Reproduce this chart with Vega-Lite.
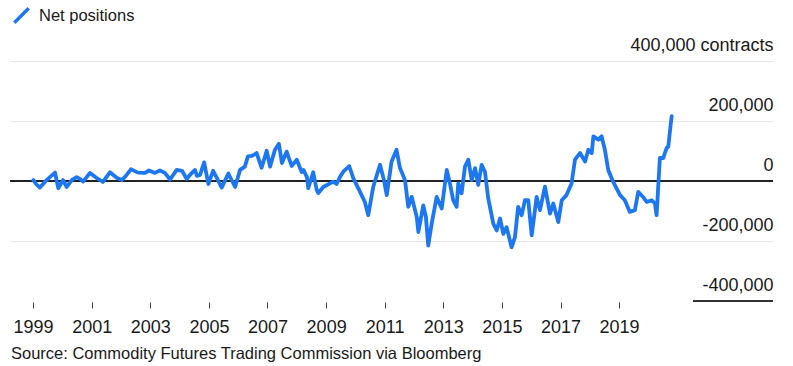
{
  "$schema": "https://vega.github.io/schema/vega-lite/v6.json",
  "width": 763,
  "height": 240,
  "autosize": {"type": "none"},
  "padding": {"left": 10, "top": 61, "right": 20, "bottom": 65},
  "background": "white",
  "config": {
    "view": {"stroke": null},
    "font": "Liberation Sans"
  },
  "title": {
    "text": "Source: Commodity Futures Trading Commission via Bloomberg",
    "orient": "bottom",
    "anchor": "start",
    "frame": "group",
    "offset": 10,
    "dx": 1,
    "font": "Liberation Sans",
    "fontSize": 16.5,
    "fontWeight": "normal",
    "color": "#1a1a1a"
  },
  "data": {
    "values": [
      {"date": "1999-01-05", "value": 3000},
      {"date": "1999-02-07", "value": -10000},
      {"date": "1999-03-26", "value": -22000},
      {"date": "1999-05-28", "value": -3000},
      {"date": "1999-07-29", "value": 13000},
      {"date": "1999-10-01", "value": 28000},
      {"date": "1999-11-11", "value": -24000},
      {"date": "2000-01-09", "value": 3000},
      {"date": "2000-02-24", "value": -20000},
      {"date": "2000-04-26", "value": 3000},
      {"date": "2000-06-27", "value": 13000},
      {"date": "2000-08-08", "value": 7000},
      {"date": "2000-09-15", "value": -2000},
      {"date": "2000-12-11", "value": 27000},
      {"date": "2001-03-03", "value": 10000},
      {"date": "2001-05-20", "value": -3000},
      {"date": "2001-08-16", "value": 29000},
      {"date": "2001-11-12", "value": 10000},
      {"date": "2002-01-14", "value": 3000},
      {"date": "2002-02-20", "value": 14000},
      {"date": "2002-05-04", "value": 39000},
      {"date": "2002-08-01", "value": 28000},
      {"date": "2002-10-26", "value": 27000},
      {"date": "2002-12-16", "value": 35000},
      {"date": "2003-02-28", "value": 27000},
      {"date": "2003-05-01", "value": 35000},
      {"date": "2003-07-02", "value": 27000},
      {"date": "2003-09-04", "value": 5000},
      {"date": "2003-11-26", "value": 37000},
      {"date": "2004-02-01", "value": 34000},
      {"date": "2004-03-29", "value": 7000},
      {"date": "2004-05-22", "value": 24000},
      {"date": "2004-07-11", "value": 37000},
      {"date": "2004-08-05", "value": 17000},
      {"date": "2004-09-12", "value": 20000},
      {"date": "2004-11-02", "value": 62000},
      {"date": "2004-12-25", "value": -10000},
      {"date": "2005-02-22", "value": 34000},
      {"date": "2005-04-24", "value": 3000},
      {"date": "2005-06-09", "value": -22000},
      {"date": "2005-08-31", "value": 25000},
      {"date": "2005-11-23", "value": -20000},
      {"date": "2006-01-24", "value": 37000},
      {"date": "2006-03-25", "value": 48000},
      {"date": "2006-05-02", "value": 82000},
      {"date": "2006-06-21", "value": 84000},
      {"date": "2006-08-19", "value": 93000},
      {"date": "2006-10-20", "value": 44000},
      {"date": "2006-12-22", "value": 101000},
      {"date": "2007-02-02", "value": 48000},
      {"date": "2007-04-04", "value": 104000},
      {"date": "2007-05-23", "value": 124000},
      {"date": "2007-06-30", "value": 60000},
      {"date": "2007-08-28", "value": 98000},
      {"date": "2007-10-29", "value": 50000},
      {"date": "2008-01-01", "value": 71000},
      {"date": "2008-03-02", "value": 30000},
      {"date": "2008-03-24", "value": 37000},
      {"date": "2008-05-07", "value": 13000},
      {"date": "2008-05-23", "value": -24000},
      {"date": "2008-07-24", "value": 29000},
      {"date": "2008-09-06", "value": -30000},
      {"date": "2008-09-26", "value": -40000},
      {"date": "2008-11-27", "value": -20000},
      {"date": "2009-02-19", "value": -8000},
      {"date": "2009-03-26", "value": -2000},
      {"date": "2009-05-12", "value": -10000},
      {"date": "2009-06-22", "value": 13000},
      {"date": "2009-08-03", "value": 31000},
      {"date": "2009-10-16", "value": 50000},
      {"date": "2009-12-06", "value": 9000},
      {"date": "2010-02-28", "value": -36000},
      {"date": "2010-04-29", "value": -70000},
      {"date": "2010-06-10", "value": -114000},
      {"date": "2010-08-11", "value": -20000},
      {"date": "2010-09-14", "value": 10000},
      {"date": "2010-11-04", "value": 54000},
      {"date": "2010-12-23", "value": 3000},
      {"date": "2011-01-27", "value": -47000},
      {"date": "2011-03-28", "value": 65000},
      {"date": "2011-05-29", "value": 104000},
      {"date": "2011-07-10", "value": 44000},
      {"date": "2011-09-11", "value": 3000},
      {"date": "2011-10-22", "value": -86000},
      {"date": "2011-12-04", "value": -53000},
      {"date": "2012-02-05", "value": -120000},
      {"date": "2012-02-25", "value": -170000},
      {"date": "2012-04-26", "value": -81000},
      {"date": "2012-05-29", "value": -120000},
      {"date": "2012-06-27", "value": -215000},
      {"date": "2012-08-09", "value": -142000},
      {"date": "2012-10-10", "value": -53000},
      {"date": "2012-12-12", "value": -92000},
      {"date": "2013-02-13", "value": 37000},
      {"date": "2013-03-24", "value": -8000},
      {"date": "2013-05-04", "value": -64000},
      {"date": "2013-06-16", "value": -86000},
      {"date": "2013-07-06", "value": -8000},
      {"date": "2013-08-17", "value": -41000},
      {"date": "2013-09-28", "value": 48000},
      {"date": "2013-11-09", "value": 71000},
      {"date": "2013-12-21", "value": 3000},
      {"date": "2014-02-01", "value": 43000},
      {"date": "2014-03-12", "value": -13000},
      {"date": "2014-04-24", "value": 54000},
      {"date": "2014-06-04", "value": 31000},
      {"date": "2014-07-15", "value": -58000},
      {"date": "2014-09-16", "value": -142000},
      {"date": "2014-10-28", "value": -165000},
      {"date": "2014-12-09", "value": -125000},
      {"date": "2015-01-19", "value": -176000},
      {"date": "2015-03-01", "value": -154000},
      {"date": "2015-05-02", "value": -221000},
      {"date": "2015-06-13", "value": -187000},
      {"date": "2015-07-23", "value": -86000},
      {"date": "2015-09-05", "value": -114000},
      {"date": "2015-10-16", "value": -64000},
      {"date": "2015-11-26", "value": -64000},
      {"date": "2016-01-08", "value": -181000},
      {"date": "2016-03-09", "value": -53000},
      {"date": "2016-04-20", "value": -97000},
      {"date": "2016-06-21", "value": -19000},
      {"date": "2016-08-23", "value": -109000},
      {"date": "2016-10-03", "value": -75000},
      {"date": "2016-12-04", "value": -137000},
      {"date": "2017-01-16", "value": -64000},
      {"date": "2017-03-17", "value": -47000},
      {"date": "2017-05-19", "value": -8000},
      {"date": "2017-06-30", "value": 71000},
      {"date": "2017-09-01", "value": 93000},
      {"date": "2017-11-03", "value": 65000},
      {"date": "2017-12-14", "value": 104000},
      {"date": "2018-01-25", "value": 93000},
      {"date": "2018-02-15", "value": 149000},
      {"date": "2018-04-16", "value": 138000},
      {"date": "2018-05-28", "value": 149000},
      {"date": "2018-07-08", "value": 104000},
      {"date": "2018-08-19", "value": 37000},
      {"date": "2018-10-20", "value": -3000},
      {"date": "2019-01-13", "value": -47000},
      {"date": "2019-03-14", "value": -64000},
      {"date": "2019-05-15", "value": -103000},
      {"date": "2019-07-17", "value": -97000},
      {"date": "2019-08-28", "value": -36000},
      {"date": "2019-10-29", "value": -54000},
      {"date": "2019-12-11", "value": -70000},
      {"date": "2020-02-12", "value": -64000},
      {"date": "2020-03-23", "value": -75000},
      {"date": "2020-04-13", "value": -114000},
      {"date": "2020-05-03", "value": -19000},
      {"date": "2020-05-24", "value": 77000},
      {"date": "2020-07-04", "value": 76000},
      {"date": "2020-08-16", "value": 110000},
      {"date": "2020-09-06", "value": 115000},
      {"date": "2020-10-05", "value": 188000},
      {"date": "2020-10-18", "value": 216000}
    ]
  },
  "encoding": {
    "x": {
      "field": "date",
      "type": "temporal",
      "scale": {
        "type": "utc",
        "domain": [
          {"year": 1998, "month": 3, "date": 19, "utc": true},
          {"year": 2024, "month": 4, "date": 3, "utc": true}
        ]
      },
      "axis": {
        "title": null,
        "values": [
          {"year": 1999, "month": 1, "date": 1, "utc": true},
          {"year": 2001, "month": 1, "date": 1, "utc": true},
          {"year": 2003, "month": 1, "date": 1, "utc": true},
          {"year": 2005, "month": 1, "date": 1, "utc": true},
          {"year": 2007, "month": 1, "date": 1, "utc": true},
          {"year": 2009, "month": 1, "date": 1, "utc": true},
          {"year": 2011, "month": 1, "date": 1, "utc": true},
          {"year": 2013, "month": 1, "date": 1, "utc": true},
          {"year": 2015, "month": 1, "date": 1, "utc": true},
          {"year": 2017, "month": 1, "date": 1, "utc": true},
          {"year": 2019, "month": 1, "date": 1, "utc": true}
        ],
        "format": "%Y",
        "formatType": "utc",
        "domain": false,
        "grid": false,
        "offset": 1,
        "ticks": true,
        "tickSize": 6,
        "tickColor": "#444444",
        "tickWidth": 1,
        "labelPadding": 10,
        "labelFont": "Liberation Sans",
        "labelFontSize": 18,
        "labelColor": "#1a1a1a",
        "labelFlush": false,
        "labelOverlap": false
      }
    },
    "y": {
      "field": "value",
      "type": "quantitative",
      "scale": {"domain": [-400000, 400000], "nice": false, "zero": false},
      "axis": {
        "title": null,
        "orient": "right",
        "values": [-400000, -200000, 0, 200000, 400000],
        "labelExpr": "datum.value === 400000 ? '400,000 contracts' : replace(format(datum.value, ',.0f'), '\u2212', '-')",
        "domain": false,
        "ticks": false,
        "tickSize": 0,
        "grid": true,
        "gridColor": {"condition": {"test": "datum.value <= -400000", "value": "transparent"}, "value": "#e6e6e6"},
        "gridWidth": 1,
        "labelAlign": "right",
        "labelBaseline": "alphabetic",
        "labelOffset": -11,
        "labelPadding": 0,
        "labelFont": "Liberation Sans",
        "labelFontSize": 18,
        "labelColor": "#1a1a1a",
        "labelFlush": false,
        "labelOverlap": false
      }
    }
  },
  "layer": [
    {
      "mark": {"type": "rule", "color": "#222222", "strokeWidth": 1.3},
      "encoding": {
        "x": null,
        "y": {"datum": 0}
      }
    },
    {
      "mark": {"type": "rule", "color": "#333333", "strokeWidth": 1.3},
      "encoding": {
        "x": {"datum": {"year": 2021, "month": 7, "date": 11, "utc": true}, "type": "temporal"},
        "x2": {"datum": {"year": 2024, "month": 4, "date": 3, "utc": true}},
        "y": {"datum": -400000}
      }
    },
    {
      "mark": {"type": "line", "strokeWidth": 3.8, "strokeCap": "round", "strokeJoin": "round"},
      "encoding": {
        "color": {
          "datum": "Net positions",
          "scale": {"range": ["#1d76f2"]},
          "legend": {
            "title": null,
            "orient": "none",
            "legendX": 1.5,
            "legendY": -55.5,
            "symbolType": "M-0.9,0.9L0.9,-0.9",
            "symbolSize": 256,
            "symbolStrokeWidth": 3.5,
            "symbolFillColor": "transparent",
            "labelOffset": 7.5,
            "labelFont": "Liberation Sans",
            "labelFontSize": 16.5,
            "labelColor": "#1a1a1a",
            "padding": 0
          }
        }
      }
    }
  ]
}
